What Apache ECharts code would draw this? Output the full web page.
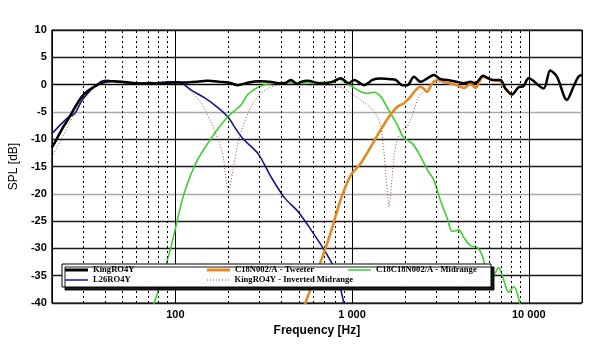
<!DOCTYPE html>
<html>
<head>
<meta charset="utf-8">
<script src="https://cdn.jsdelivr.net/npm/echarts@6/dist/echarts.min.js"></script>
<style>html,body{margin:0;padding:0;background:#fff}#c{width:600px;height:345px}</style>
</head>
<body>
<div id="c"></div>
<script>
// ---- data: [frequency Hz, SPL dB] ----
const kingRO4Y = [[20,-11.5],[20.4,-11.1],[22.8,-8.2],[24.9,-6.2],[27,-4.2],[29.6,-2.2],[32.2,-1.1],[35.2,-0.3],[38.3,0.35],[43.6,0.6],[50,0.5],[56,0.35],[64,0.2],[72,0.3],[80,0.2],[90,0.35],[100,0.4],[113,0.4],[140,0.6],[153,0.7],[180,0.5],[205,0.3],[225,-0.1],[260,0.4],[300,0.6],[350,0.5],[392,0.2],[420,0.3],[450,0.85],[490,0.1],[514,0.5],[559,0.7],[667,0.2],[776,0.5],[864,1.15],[958,0.25],[1027,0.85],[1170,-0.1],[1305,0.85],[1453,1.1],[1655,1.0],[1766,0.85],[1926,-0.1],[2055,-0.1],[2240,1.45],[2444,0.5],[2666,1.15],[2904,1.75],[3169,1.0],[3456,0.85],[3934,0.5],[4288,0.25],[4678,0.5],[4990,0.25],[5514,1.6],[6198,0.85],[6904,0.85],[7370,-0.7],[8036,-1.8],[8756,-0.5],[9344,-0.25],[9972,1.15],[12116,-0.7],[13218,2.6],[14424,1.45],[16422,-2.8],[17888,-0.4],[19086,1.45],[20000,1.75]];
const l26RO4Y = [[20,-9.0],[22.8,-7.1],[24.8,-6.0],[27,-5.3],[29.5,-3.0],[32.2,-1.5],[35.1,-0.3],[38.3,0.6],[41,0.8],[45,0.6],[50,0.4],[60,0.3],[75,0.3],[95,0.5],[104,0.5],[113,-0.1],[123,-1.0],[146,-2.4],[174,-4.2],[198,-5.9],[226,-8.7],[246,-10.2],[293,-12.6],[348,-16.9],[414,-20.7],[493,-23.2],[586,-26.6],[696,-30.3],[792,-33.6],[864,-37.6],[902,-40.4]];
const tweeter = [[537,-40.5],[681,-31.5],[759,-27],[864,-21],[984,-16.6],[1120,-14.4],[1276,-11.4],[1453,-8.3],[1618,-5.9],[1805,-4.05],[1968,-3.4],[2144,-2.2],[2290,-1.0],[2444,-0.4],[2666,-1.3],[2844,0.25],[3034,0.85],[3380,0.4],[3934,-0.1],[4288,-0.6],[4678,0.1],[4990,-0.6],[5514,1.4],[6198,0.85],[6904,0.6],[7370,-0.8],[8036,-1.9]];
const midrange = [[73.3,-41],[76.5,-39.7],[89,-32.7],[95,-29.5],[99,-27],[113,-19.6],[134,-13.7],[167,-8.9],[198,-5.9],[236,-3.7],[257,-1.8],[280,-0.9],[306,-0.2],[364,0.24],[452,0.4],[586,0.3],[667,0.4],[759,0.5],[845,1.1],[902,0.5],[1006,-0.4],[1120,-1.3],[1222,-1.6],[1332,-1.4],[1453,-2.2],[1551,-3.7],[1655,-5.3],[1805,-7.4],[1967,-9.8],[2194,-10.8],[2390,-12.6],[2666,-15.6],[2904,-17.5],[3169,-21.3],[3456,-24.5],[3688,-26.9],[4018,-26.6],[4288,-28],[4678,-29.5],[5102,-29.8],[5440,-31.2],[5808,-34.2],[6330,-34.7],[6756,-33.5],[7208,-35.8],[7692,-38],[8208,-37],[8956,-40.5]];
const invertedMid = [[20,-13.3],[20.4,-12.8],[22.8,-9.8],[24.8,-7.5],[27,-5],[29.5,-2.8],[32.2,-1.3],[35,-0.2],[38.3,0.7],[41,0.8],[45,0.6],[55,0.3],[70,0.25],[90,0.3],[100,0.35],[108,0.24],[123,-1.3],[140,-3.4],[160,-7.1],[174,-10],[186,-13],[194,-17.5],[200,-19.5],[212,-15.6],[226,-10.8],[241,-7.7],[263,-4.6],[293,-2.2],[334,-0.7],[397,0.1],[452,0.2],[514,0.1],[586,-0.1],[667,-0.1],[759,-0.2],[828,-0.4],[902,-0.7],[984,-1.6],[1120,-2.8],[1276,-4.3],[1392,-5.9],[1453,-7.7],[1504,-11.4],[1551,-16.2],[1598,-21.1],[1618,-22.4],[1655,-19.9],[1728,-13.2],[1805,-10.1],[1926,-8.3],[2055,-7.7],[2194,-5.6],[2390,-2.2],[2608,-1.0],[2782,-0.07],[3034,0.5],[3380,0.3],[3934,-0.3],[4288,-0.8],[4678,-0.1],[4990,-0.8],[5300,0.5]];
const seriesNames = ['KingRO4Y','L26RO4Y','C18N002/A - Tweeter','KingRO4Y - Inverted Midrange','C18C18N002/A - Midrange'];
const minorFreqs = [30,40,50,60,70,80,90,200,300,400,500,600,700,800,900,2000,3000,4000,5000,6000,7000,8000,9000];
const majorFreqLabels = {100:'100',1000:'1 000',10000:'10 000'};
const yTicks = {min:-40,max:10,step:5};

const chart = echarts.init(document.getElementById('c'));
const grayLines = [-20,-5];
const splitColors = [];
for (let v = yTicks.min; v <= yTicks.max; v += yTicks.step) splitColors.push(grayLines.includes(v) ? '#a8a8a8' : '#1a1a1a');

const legendFont = {fontFamily:'Liberation Serif', fontWeight:'bold', fontSize:8.6, color:'#000', lineHeight:10};
function leg(name, left, top, icon, h) {
  return {data:[name], left:left, top:top, itemWidth:23, itemHeight:h, icon:icon, itemGap:0,
          padding:0, textStyle:legendFont, selectedMode:false, z:60};
}
const dotIcon = 'path://M0,0h1v1h-1zM3,0h1v1h-1zM6,0h1v1h-1zM9,0h1v1h-1zM12,0h1v1h-1zM15,0h1v1h-1zM18,0h1v1h-1zM21,0h1v1h-1z';

chart.setOption({
  animation:false,
  grid:{left:50,right:18,top:30,bottom:42,show:true,borderColor:'#000',borderWidth:1},
  xAxis:{type:'log',logBase:10,min:20,max:20000,
    axisLine:{lineStyle:{color:'#000',width:1}},
    axisTick:{show:false},
    axisLabel:{fontFamily:'Liberation Sans',fontWeight:'bold',fontSize:11,color:'#000',margin:6,
      formatter:function(v){const r=Math.round(v);return majorFreqLabels[r]||'';}},
    splitLine:{show:true,lineStyle:{color:'#000',width:1}},
    name:'Frequency [Hz]',nameLocation:'middle',nameGap:15,
    nameTextStyle:{fontFamily:'Liberation Sans',fontWeight:'bold',fontSize:12,color:'#000'}},
  yAxis:{type:'value',min:yTicks.min,max:yTicks.max,interval:yTicks.step,
    axisLine:{show:true,lineStyle:{color:'#000'}},
    axisTick:{show:false},
    axisLabel:{fontFamily:'Liberation Sans',fontWeight:'bold',fontSize:11,color:'#000',margin:5},
    splitLine:{show:true,lineStyle:{color:splitColors,width:1.3}},
    name:'SPL [dB]',nameLocation:'middle',nameGap:20,
    nameTextStyle:{fontFamily:'Liberation Sans',fontSize:12,color:'#000'}},
  graphic:[{type:'rect',z:50,shape:{x:62,y:264,width:429,height:23},
    style:{fill:'#fff',stroke:'#000',lineWidth:1,shadowColor:'rgba(0,0,0,0.9)',shadowOffsetX:3,shadowOffsetY:3,shadowBlur:0}}],
  legend:[
    leg(seriesNames[0],65,265,'rect',3),
    leg(seriesNames[1],65,275,'rect',1.5),
    leg(seriesNames[2],207,265,'rect',3),
    leg(seriesNames[3],207,275,dotIcon,1),
    leg(seriesNames[4],348,265,'rect',1.5)
  ],
  series:[
    {name:seriesNames[3],type:'line',data:invertedMid,symbol:'none',smooth:0.3,color:'#9b4a40',
     lineStyle:{width:1,type:[1,2],color:'#9b4a40'},z:2,
     markLine:{silent:true,symbol:'none',label:{show:false},lineStyle:{color:'#000',type:[2,3],width:1},
       data:minorFreqs.map(f=>({xAxis:f}))}},
    {name:seriesNames[1],type:'line',data:l26RO4Y,symbol:'none',smooth:0.3,color:'#14148c',lineStyle:{width:1.6},z:3},
    {name:seriesNames[4],type:'line',data:midrange,symbol:'none',smooth:0.3,color:'#3ccf2e',lineStyle:{width:1.6},z:4},
    {name:seriesNames[2],type:'line',data:tweeter,symbol:'none',smooth:0.3,color:'#e58a22',lineStyle:{width:2.6},z:5},
    {name:seriesNames[0],type:'line',data:kingRO4Y,symbol:'none',smooth:0.3,color:'#000',lineStyle:{width:2.5},z:6}
  ]
});
</script>
</body>
</html>
